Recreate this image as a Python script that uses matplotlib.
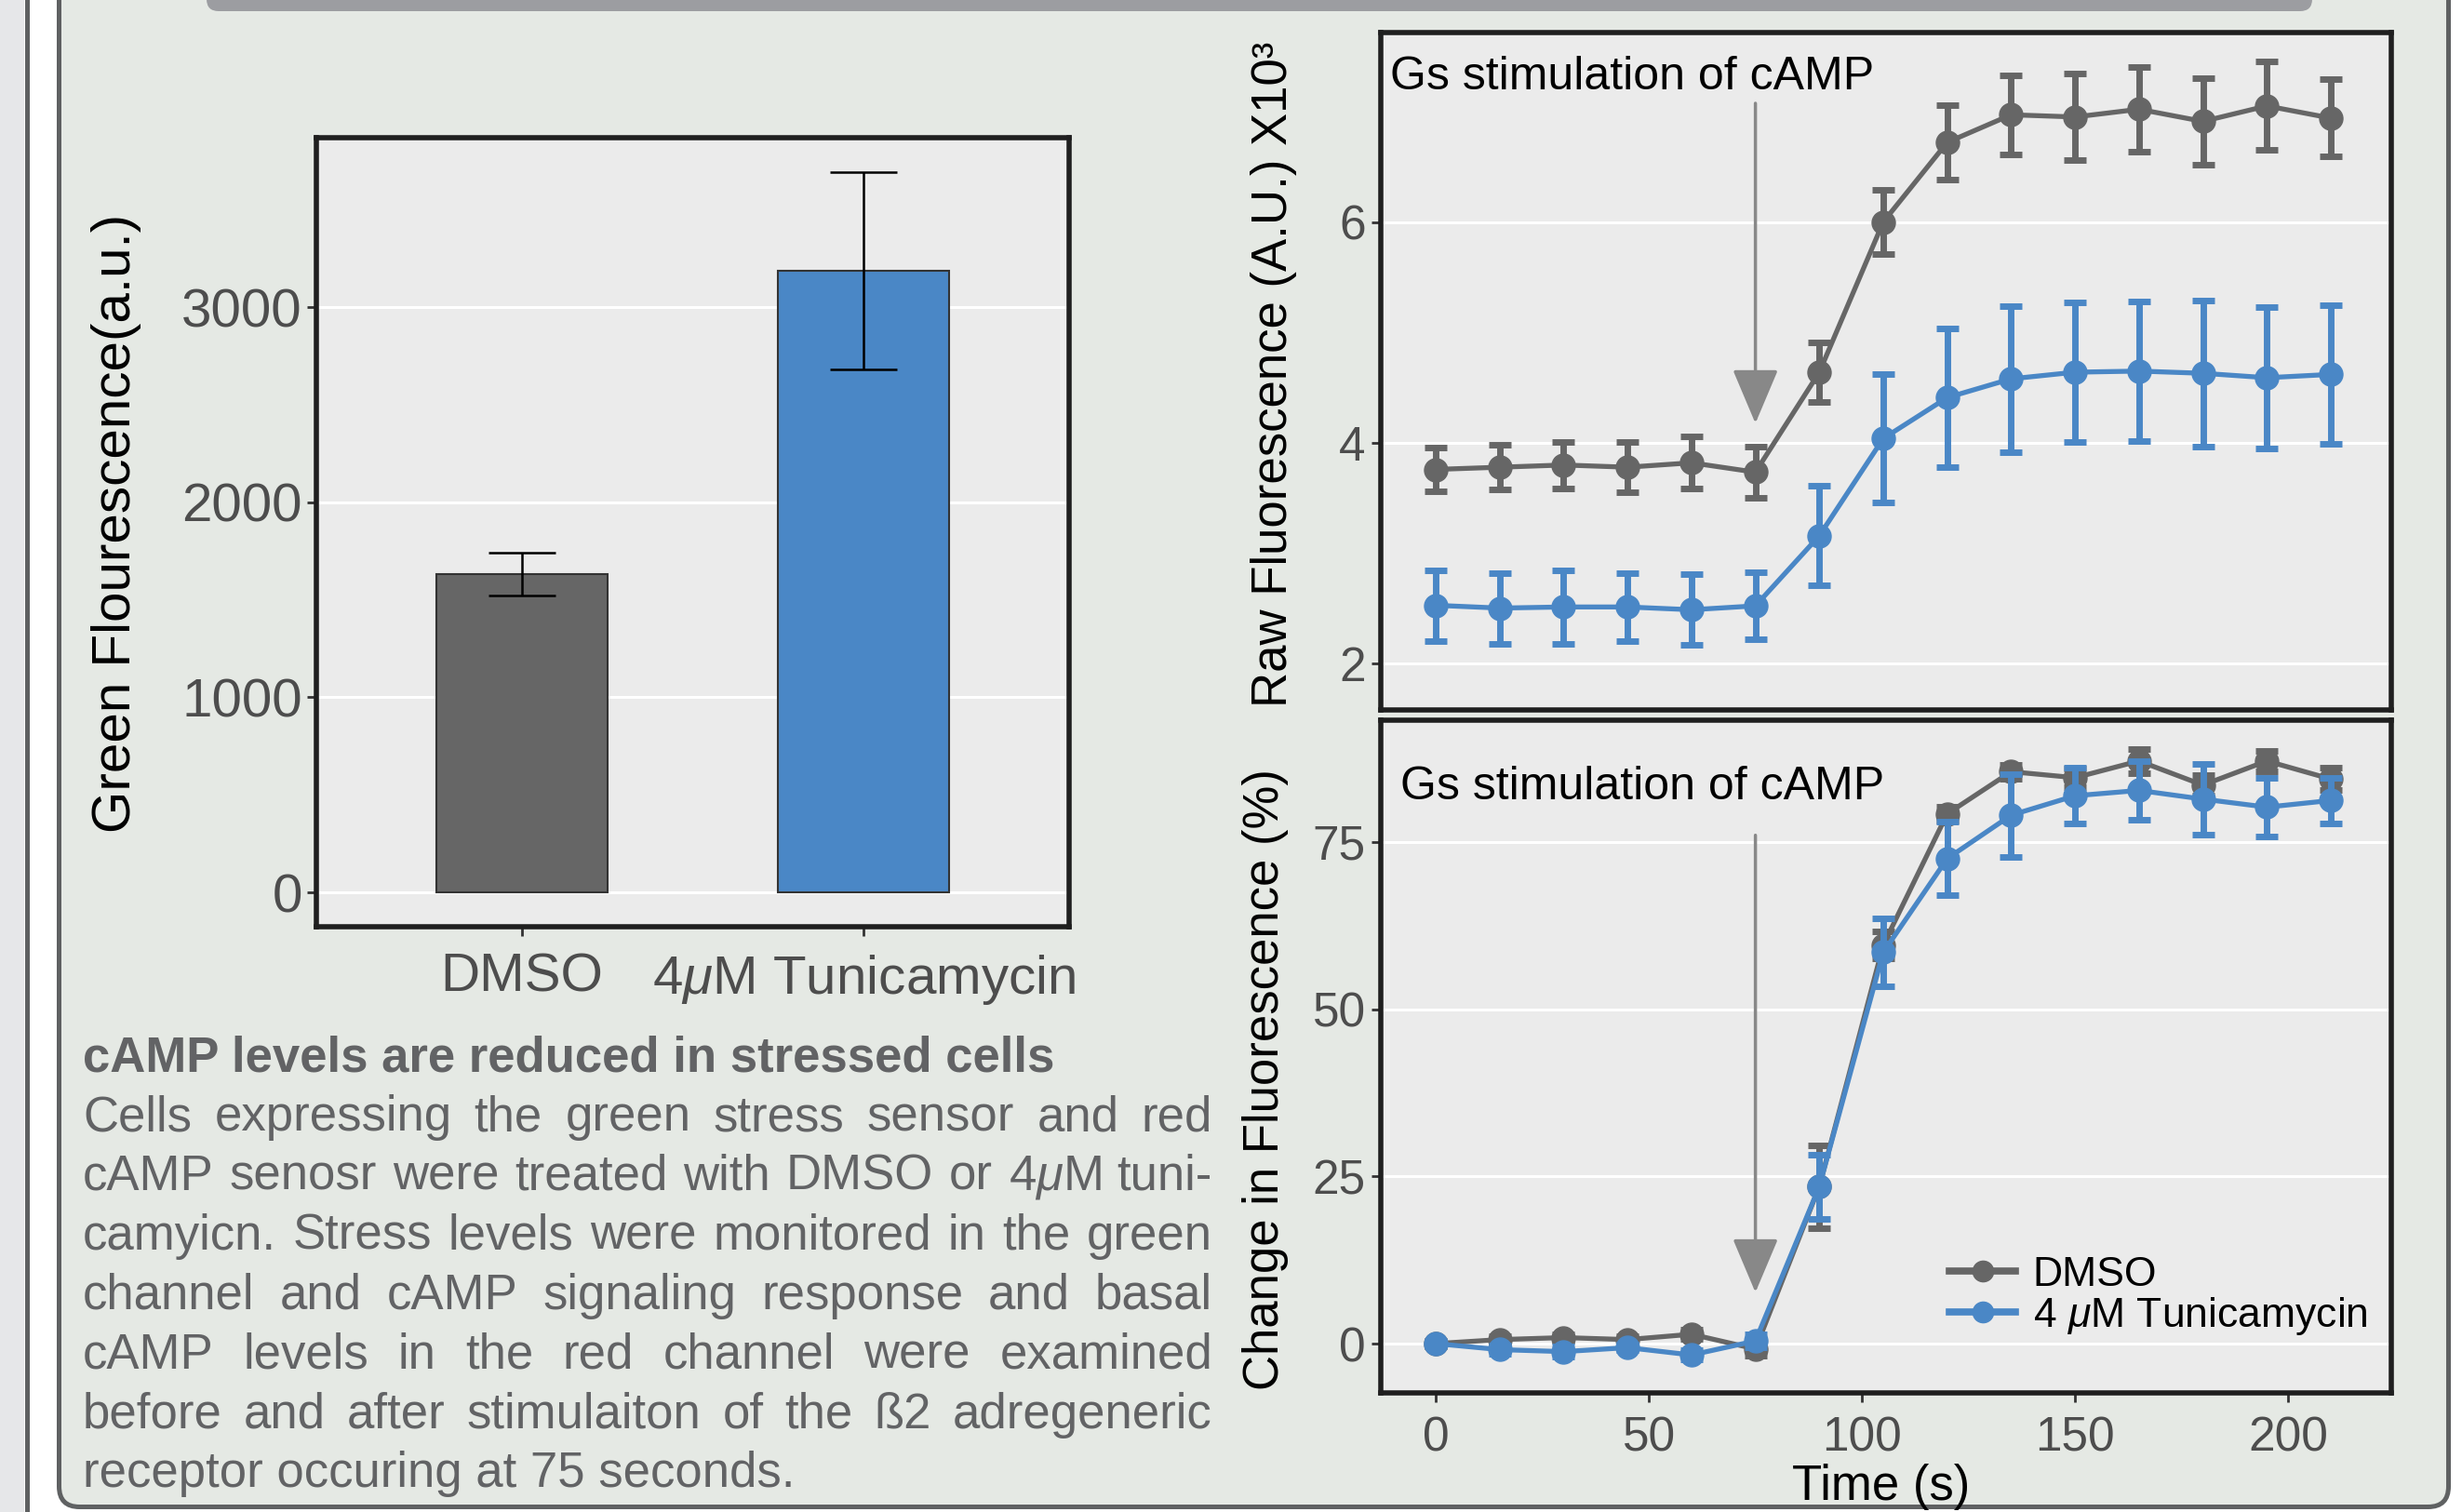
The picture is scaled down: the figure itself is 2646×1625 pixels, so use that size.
import matplotlib
matplotlib.use('Agg')
import matplotlib.pyplot as plt
from matplotlib.patches import FancyBboxPatch, Rectangle
from matplotlib.lines import Line2D
from matplotlib.transforms import Affine2D

plt.rcParams['font.family'] = ['Liberation Sans', 'DejaVu Sans']
plt.rcParams['mathtext.fontset'] = 'custom'
plt.rcParams['mathtext.rm'] = 'Liberation Sans'
plt.rcParams['mathtext.it'] = 'Liberation Sans:italic'
plt.rcParams['mathtext.bf'] = 'Liberation Sans:bold'

# ---------------- data ----------------
bar_groups = ['DMSO', '4$\\mu$M Tunicamycin']
bar_means = [1630, 3185]
bar_errs = [110, 505]

time_s = [0, 15, 30, 45, 60, 75, 90, 105, 120, 135, 150, 165, 180, 195, 210]
raw_dmso = [3.76, 3.78, 3.80, 3.78, 3.82, 3.735, 4.64, 6.00, 6.72, 6.97, 6.95, 7.02, 6.91, 7.05, 6.94]
raw_dmso_err = [0.20, 0.20, 0.21, 0.23, 0.235, 0.23, 0.27, 0.29, 0.34, 0.36, 0.39, 0.38, 0.39, 0.40, 0.35]
raw_tun = [2.53, 2.505, 2.515, 2.515, 2.49, 2.525, 3.16, 4.04, 4.41, 4.58, 4.64, 4.65, 4.63, 4.59, 4.62]
raw_tun_err = [0.32, 0.32, 0.33, 0.305, 0.32, 0.305, 0.45, 0.58, 0.63, 0.66, 0.63, 0.63, 0.66, 0.64, 0.63]
pct_dmso = [0.0, 0.6, 0.9, 0.6, 1.4, -0.8, 23.5, 59.6, 79.2, 85.5, 84.6, 87.1, 83.5, 87.1, 84.4]
pct_dmso_err = [0.4, 0.5, 0.5, 0.5, 0.7, 1.0, 6.2, 2.0, 1.0, 1.0, 1.4, 1.8, 1.5, 1.5, 1.7]
pct_tun = [0.0, -0.9, -1.2, -0.6, -1.7, 0.4, 23.5, 58.5, 72.5, 79.0, 81.9, 82.7, 81.4, 80.2, 81.2]
pct_tun_err = [0.3, 0.6, 0.8, 0.4, 0.7, 1.0, 4.8, 5.1, 5.5, 6.2, 4.2, 4.4, 5.3, 4.4, 3.4]
series_labels = ['DMSO', '4 $\\mu$M Tunicamycin']
stim_time = 75

desc_title = 'cAMP levels are reduced in stressed cells'
desc_lines = [
    'Cells expressing the green stress sensor and red',
    'cAMP senosr were treated with DMSO or 4$\\mu$M tuni-',
    'camyicn. Stress levels were monitored in the green',
    'channel and cAMP signaling response and basal',
    'cAMP levels in the red channel were  examined',
    'before and after stimulaiton of the \u00df2 adregeneric',
    'receptor occuring at 75 seconds.',
]

# ---------------- styles ----------------
W, H, DPI = 2646, 1625, 100
C_GRAY = '#666666'
C_BLUE = '#4A87C6'
PANEL_BG = '#E5E9E4'
AX_BG = '#EBEBEB'
TICK_TXT = '#4D4D4D'
DESC_TXT = '#626365'
FRAME = '#1F1F1F'

fig = plt.figure(figsize=(W / DPI, H / DPI), dpi=DPI, facecolor='white')
T = Affine2D().scale(1.0 / DPI) + fig.dpi_scale_trans  # pixel coords, origin bottom-left


def fxy(x, y_top):
    return x / W, 1 - y_top / H


# background decorations
fig.patches.append(Rectangle((0, 0), 26, H, transform=T, fc='#E6E7E9', ec='none', zorder=-20))
fig.lines.append(Line2D([28.5, 28.5], [0, H], transform=T, color='#5E6061', lw=3.6, zorder=-19))
fig.patches.append(FancyBboxPatch((63.5, H - 1619.5), 2631.5 - 63.5, 1619.5 + 100,
                                  boxstyle='round,pad=0,rounding_size=22', transform=T,
                                  fc=PANEL_BG, ec='#5F6162', lw=3.6, zorder=-18))
fig.patches.append(FancyBboxPatch((222, H - 12), 2485 - 222, 60,
                                  boxstyle='round,pad=0,rounding_size=13', transform=T,
                                  fc='#9C9DA1', ec='none', zorder=-17))


def style_axes(ax, tick_fs, ypad, xpad):
    ax.set_facecolor(AX_BG)
    for s in ax.spines.values():
        s.set_color(FRAME)
        s.set_linewidth(4.0)
    ax.set_axisbelow(True)
    ax.yaxis.grid(True, color='white', lw=2.2)
    ax.xaxis.grid(False)
    ax.tick_params(axis='both', length=7.5, width=2, color='#333333',
                   labelcolor=TICK_TXT, labelsize=tick_fs)
    ax.tick_params(axis='y', pad=ypad)
    ax.tick_params(axis='x', pad=xpad)


# ---------------- bar chart ----------------
ax1 = fig.add_axes([340 / W, 1 - 996 / H, (1149 - 340) / W, (996 - 148) / H])
style_axes(ax1, 42, 3.5, 12.5)
xpos = [1, 2]
ax1.bar(xpos, bar_means, width=0.5, color=[C_GRAY, C_BLUE], edgecolor='#333333', linewidth=1.5, zorder=2)
ax1.errorbar(xpos, bar_means, yerr=bar_errs, fmt='none', ecolor='black', elinewidth=1.8,
             capsize=26, capthick=1.8, zorder=3)
ax1.set_xlim(0.4, 2.6)
ax1.set_ylim(-176, 3868)
ax1.set_xticks(xpos)
ax1.set_xticklabels(bar_groups)
ax1.set_yticks([0, 1000, 2000, 3000])
fig.text(125 / W, 1 - 562 / H, 'Green Flourescence(a.u.)', rotation=90, fontsize=42,
         color='black', ha='center', va='center')

# ---------------- line charts ----------------
ax2 = fig.add_axes([1484 / W, 1 - 763 / H, (2570 - 1484) / W, (763 - 35) / H])
ax3 = fig.add_axes([1484 / W, 1 - 1497 / H, (2570 - 1484) / W, (1497 - 774) / H])
for ax in (ax2, ax3):
    style_axes(ax, 37, 4.3, 10.5)
    ax.set_xlim(-12.9, 224.2)
    ax.set_xticks([0, 50, 100, 150, 200])

ekw = dict(lw=3.8, marker='o', ms=18, elinewidth=5.0, capsize=8.3, capthick=5.0)
ax2.errorbar(time_s, raw_dmso, yerr=raw_dmso_err, color=C_GRAY, zorder=3, **ekw)
ax2.errorbar(time_s, raw_tun, yerr=raw_tun_err, color=C_BLUE, zorder=4, **ekw)
ax2.set_ylim(1.583, 7.714)
ax2.set_yticks([2, 4, 6])
ax2.tick_params(axis='x', bottom=False, labelbottom=False)

ax3.errorbar(time_s, pct_dmso, yerr=pct_dmso_err, color=C_GRAY, zorder=3, **ekw)
ax3.errorbar(time_s, pct_tun, yerr=pct_tun_err, color=C_BLUE, zorder=4, **ekw)
ax3.set_ylim(-7.37, 93.2)
ax3.set_yticks([0, 25, 50, 75])

arrow_props = dict(arrowstyle='-|>,head_length=0.367,head_width=0.155', mutation_scale=100,
                   color='#888888', lw=2.5, shrinkA=0, shrinkB=0)
ax2.annotate('', xy=(stim_time, 4.177), xytext=(stim_time, 7.074), arrowprops=arrow_props, zorder=2)
ax3.annotate('', xy=(stim_time, 7.65), xytext=(stim_time, 76.0), arrowprops=arrow_props, zorder=2)

fig.text(*fxy(1494, 96), 'Gs stimulation of cAMP', fontsize=36, color='black', ha='left', va='baseline')
fig.text(*fxy(1505, 859), 'Gs stimulation of cAMP', fontsize=36, color='black', ha='left', va='baseline')

fig.text(*fxy(1369, 402), 'Raw Fluorescence (A.U.) X10\u00b3', rotation=90, fontsize=38,
         color='black', ha='center', va='center')
fig.text(*fxy(1360, 1160), 'Change in Fluorescence (%)', rotation=90, fontsize=38,
         color='black', ha='center', va='center')
fig.text(*fxy(2022, 1612), 'Time (s)', fontsize=38, color='black', ha='center', va='baseline')

handles = [Line2D([], [], color=C_GRAY, lw=5.5, marker='o', ms=16),
           Line2D([], [], color=C_BLUE, lw=5.5, marker='o', ms=16)]
ax3.legend(handles, series_labels, loc='upper left', bbox_to_anchor=fxy(2095, 1350),
           bbox_transform=fig.transFigure, frameon=False, fontsize=32, handlelength=1.6,
           handletextpad=0.42, labelspacing=0.02, borderpad=0, borderaxespad=0)

# ---------------- description text ----------------
desc_left, desc_right = 89, 1303
fig.text(*fxy(desc_left, 1152), desc_title, fontsize=38, fontweight='bold', color=DESC_TXT,
         ha='left', va='baseline')
renderer = fig.canvas.get_renderer()
for i, line in enumerate(desc_lines):
    yb = 1215 + i * 63.9
    if i == len(desc_lines) - 1:
        fig.text(*fxy(desc_left, yb), line, fontsize=38, color=DESC_TXT, ha='left', va='baseline')
        continue
    words = line.split()
    ts = [fig.text(*fxy(0, yb), w, fontsize=38, color=DESC_TXT, ha='left', va='baseline') for w in words]
    widths = [t.get_window_extent(renderer).width for t in ts]
    gap = (desc_right - desc_left - sum(widths)) / (len(words) - 1)
    x = desc_left
    for t, w in zip(ts, widths):
        t.set_x(x / W)
        x += w + gap

fig.savefig('out.png', dpi=DPI, facecolor='white')
